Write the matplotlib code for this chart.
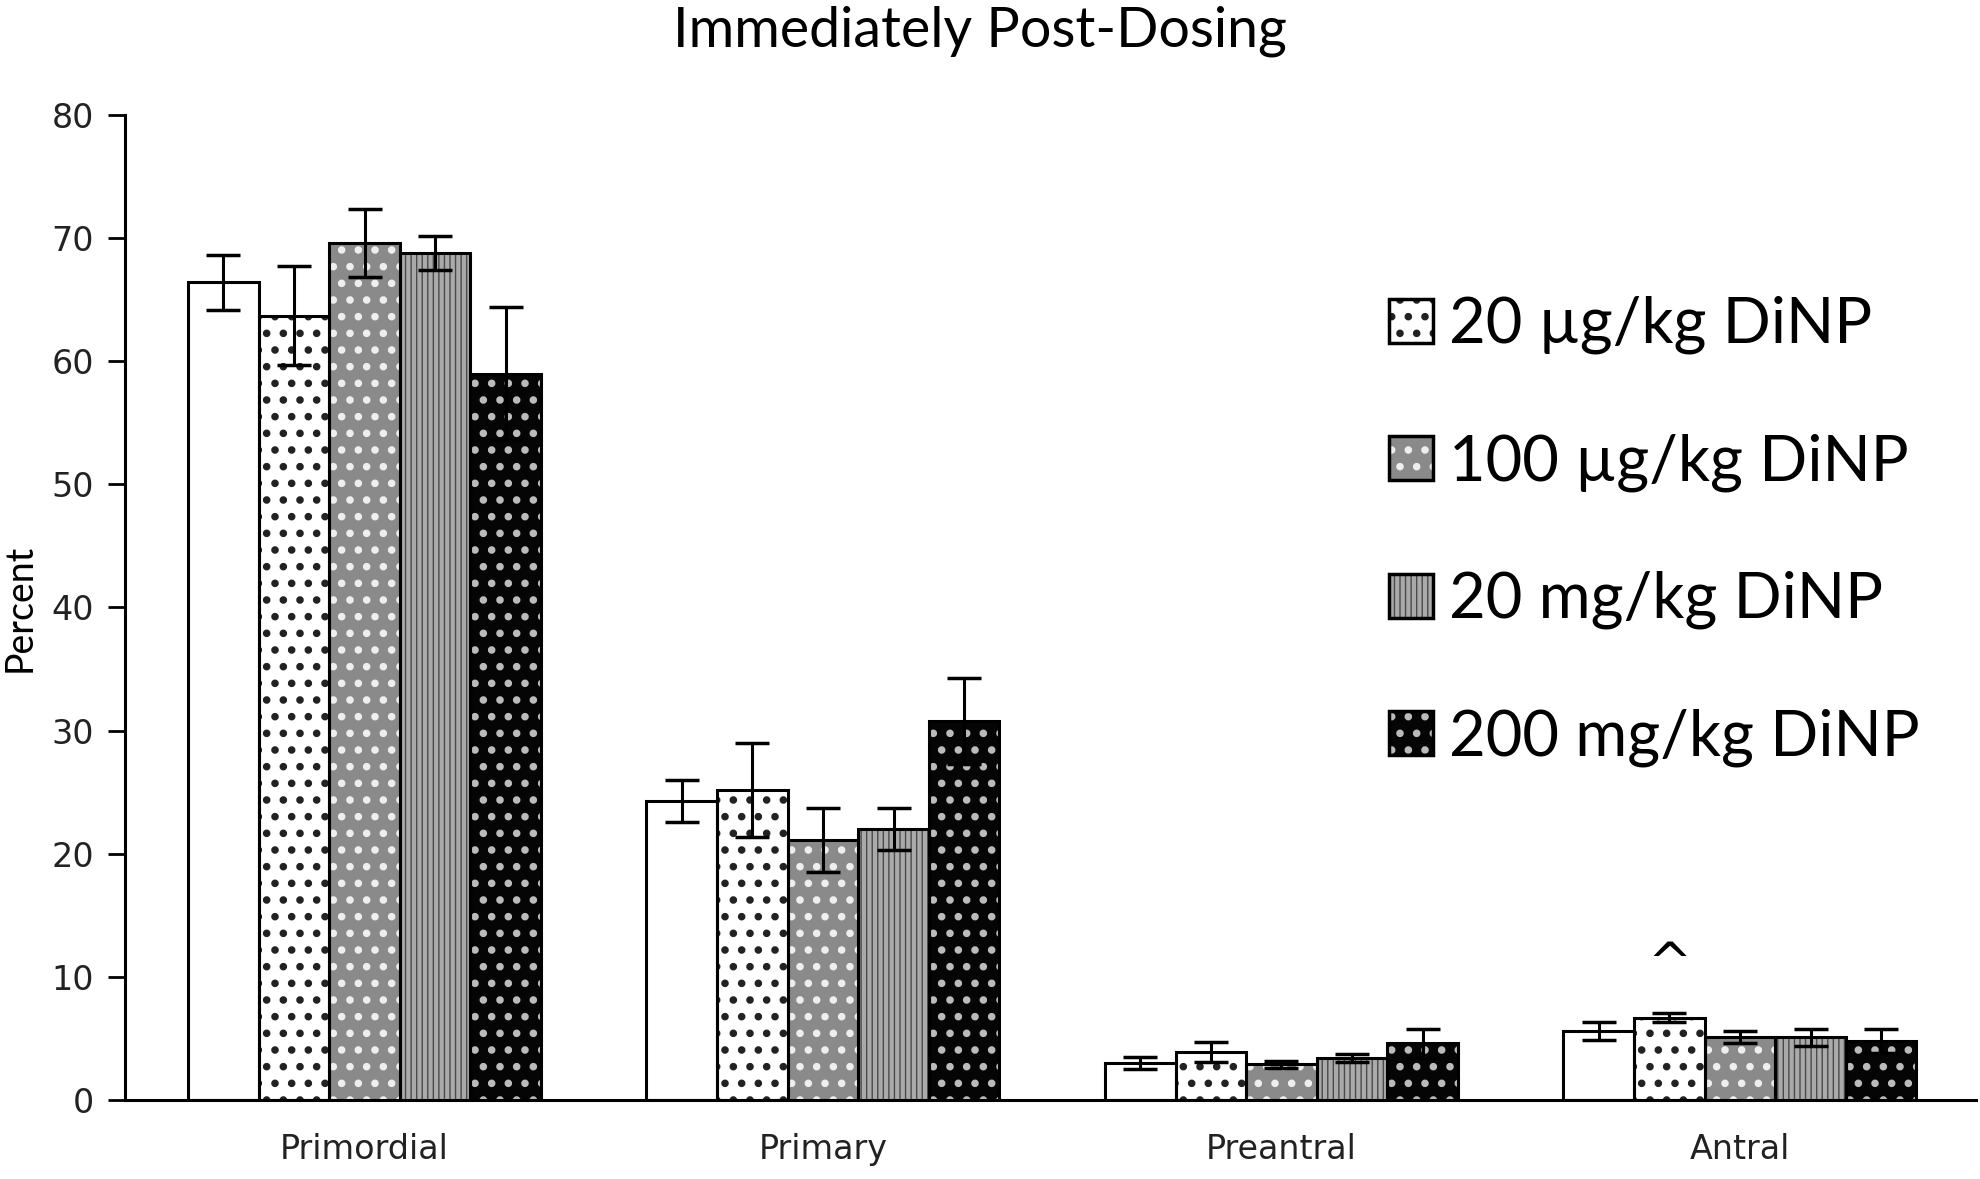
import matplotlib
matplotlib.use("Agg")
import matplotlib.pyplot as plt
import numpy as np
from matplotlib.patches import Patch
from matplotlib.legend_handler import HandlerTuple

categories = ["Primordial", "Primary", "Preantral", "Antral"]
series_labels = ["Control", "20 \u00b5g/kg DiNP", "100 \u00b5g/kg DiNP", "20 mg/kg DiNP", "200 mg/kg DiNP"]
control = [66.4, 24.3, 3.0, 5.6]
ug20 = [63.7, 25.2, 3.9, 6.7]
ug100 = [69.6, 21.1, 2.9, 5.1]
mg20 = [68.8, 22.0, 3.4, 5.1]
mg200 = [59.0, 30.8, 4.6, 4.8]
control_err = [2.2, 1.7, 0.5, 0.7]
ug20_err = [4.0, 3.8, 0.8, 0.4]
ug100_err = [2.8, 2.6, 0.3, 0.5]
mg20_err = [1.4, 1.7, 0.3, 0.7]
mg200_err = [5.4, 3.5, 1.2, 1.0]
yticks = [0, 10, 20, 30, 40, 50, 60, 70, 80]
annot_text = "^"
annot_cat = 3
annot_series = 1
annot_y = 11.0

values = [control, ug20, ug100, mg20, mg200]
errors = [control_err, ug20_err, ug100_err, mg20_err, mg200_err]
faces = ["white", "white", "#8a8a8a", "#4a4a4a", "#050505"]
hatch_colors = [None, "#222222", "#eeeeee", "#aaaaaa", "#bbbbbb"]
hatches = [None, ".", ".", "|||", "."]

plt.rcParams["hatch.linewidth"] = 3.0
fig = plt.figure(figsize=(19.8, 11.79), dpi=100)
ax = fig.add_axes([0.063, 0.067, 0.935, 0.8355])

x = np.arange(len(categories))
w = 0.154
handles = []
for i, (vals, errs) in enumerate(zip(values, errors)):
    pos = x + (i - 2) * w
    ax.bar(pos, vals, width=w, color=faces[i], edgecolor="none", zorder=2)
    if hatches[i]:
        ax.bar(pos, vals, width=w, color="none", edgecolor=hatch_colors[i],
               hatch=hatches[i], linewidth=0, zorder=3)
    ax.bar(pos, vals, width=w, color="none", edgecolor="black", linewidth=2.2, zorder=4)
    ax.errorbar(pos, vals, yerr=errs, fmt="none", ecolor="black", elinewidth=2.2,
                capsize=12, capthick=2.5, zorder=5)
    if i > 0:
        h1 = Patch(facecolor=faces[i], edgecolor="none")
        h2 = Patch(facecolor="none", edgecolor=hatch_colors[i], hatch=hatches[i], linewidth=0)
        h3 = Patch(facecolor="none", edgecolor="black", linewidth=2.5)
        handles.append((h1, h2, h3))

ax.text(x[annot_cat] + (annot_series - 2) * w, annot_y, annot_text, ha="center", va="center",
        fontsize=38, family="DejaVu Sans")

ax.set_xlim(-0.523, 3.515)
ax.set_ylim(0, 80)
ax.set_yticks(yticks)
ax.set_xticks(x)
ax.set_xticklabels(categories, family="DejaVu Sans", fontsize=24, color="#222222")
ax.tick_params(axis="x", length=0, pad=24)
ax.tick_params(axis="y", direction="out", length=12, width=2, labelsize=24, pad=10)
for lab in ax.get_yticklabels():
    lab.set_family("DejaVu Sans")
    lab.set_color("#222222")
ax.spines["top"].set_visible(False)
ax.spines["right"].set_visible(False)
ax.spines["left"].set_linewidth(2.2)
ax.spines["bottom"].set_linewidth(2.2)
ax.set_ylabel("Percent", family="Lato", fontsize=27, labelpad=10)
fig.suptitle("Immediately Post-Dosing", family="Lato", fontsize=40, x=0.495, y=0.995, va="top")

leg = ax.legend(handles, series_labels[1:], handler_map={tuple: HandlerTuple(ndivide=1, pad=0)},
                loc="upper left", bbox_to_anchor=(0.652, 0.874), frameon=False,
                prop={"family": "Lato", "size": 45.5}, handlelength=0.7, handleheight=0.7,
                handletextpad=0.25, labelspacing=1.25)

fig.savefig("out.png", dpi=100)
